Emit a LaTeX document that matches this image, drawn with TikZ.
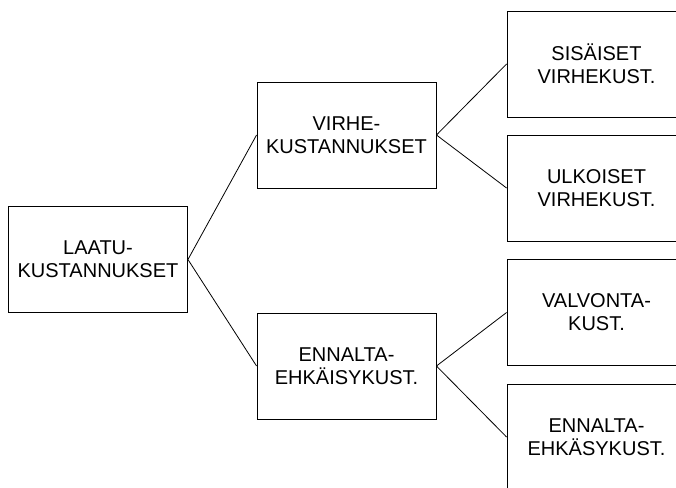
\documentclass[tikz,border=0pt]{standalone}
\usepackage{fontspec}
\setmainfont{Liberation Sans}

\tikzset{
  costbox/.style={draw, line width=0.9pt, minimum width=179pt, minimum height=106pt,
    inner sep=0pt, align=center, font=\fontsize{20}{23}\selectfont},
  branch/.style={line width=0.8pt}
}

\begin{document}
\begin{tikzpicture}[x=1pt, y=-1pt]
    % Page
    \clip (0,0) rectangle (676,487);
    % Root
    \node[costbox] (laatu) at (98,259.5) {LAATU-\\KUSTANNUKSET};
    % Middle level
    \node[costbox] (virhe) at (346.5,135) {VIRHE-\\KUSTANNUKSET};
    \node[costbox] (ennalta) at (346.5,366) {ENNALTA-\\EHKÄISYKUST.};
    % Right level
    \node[costbox] (sisaiset) at (596.5,64) {SISÄISET\\VIRHEKUST.};
    \node[costbox] (ulkoiset) at (596.5,188) {ULKOISET\\VIRHEKUST.};
    \node[costbox] (valvonta) at (596.5,312.5) {VALVONTA-\\KUST.};
    \node[costbox] (ehkasy) at (596.5,437) {ENNALTA-\\EHKÄSYKUST.};
    % Branches
    \draw[branch] (laatu.east) -- (virhe.west);
    \draw[branch] (laatu.east) -- (ennalta.west);
    \draw[branch] (virhe.east) -- (sisaiset.west);
    \draw[branch] (virhe.east) -- (ulkoiset.west);
    \draw[branch] (ennalta.east) -- (valvonta.west);
    \draw[branch] (ennalta.east) -- (ehkasy.west);
\end{tikzpicture}
\end{document}
